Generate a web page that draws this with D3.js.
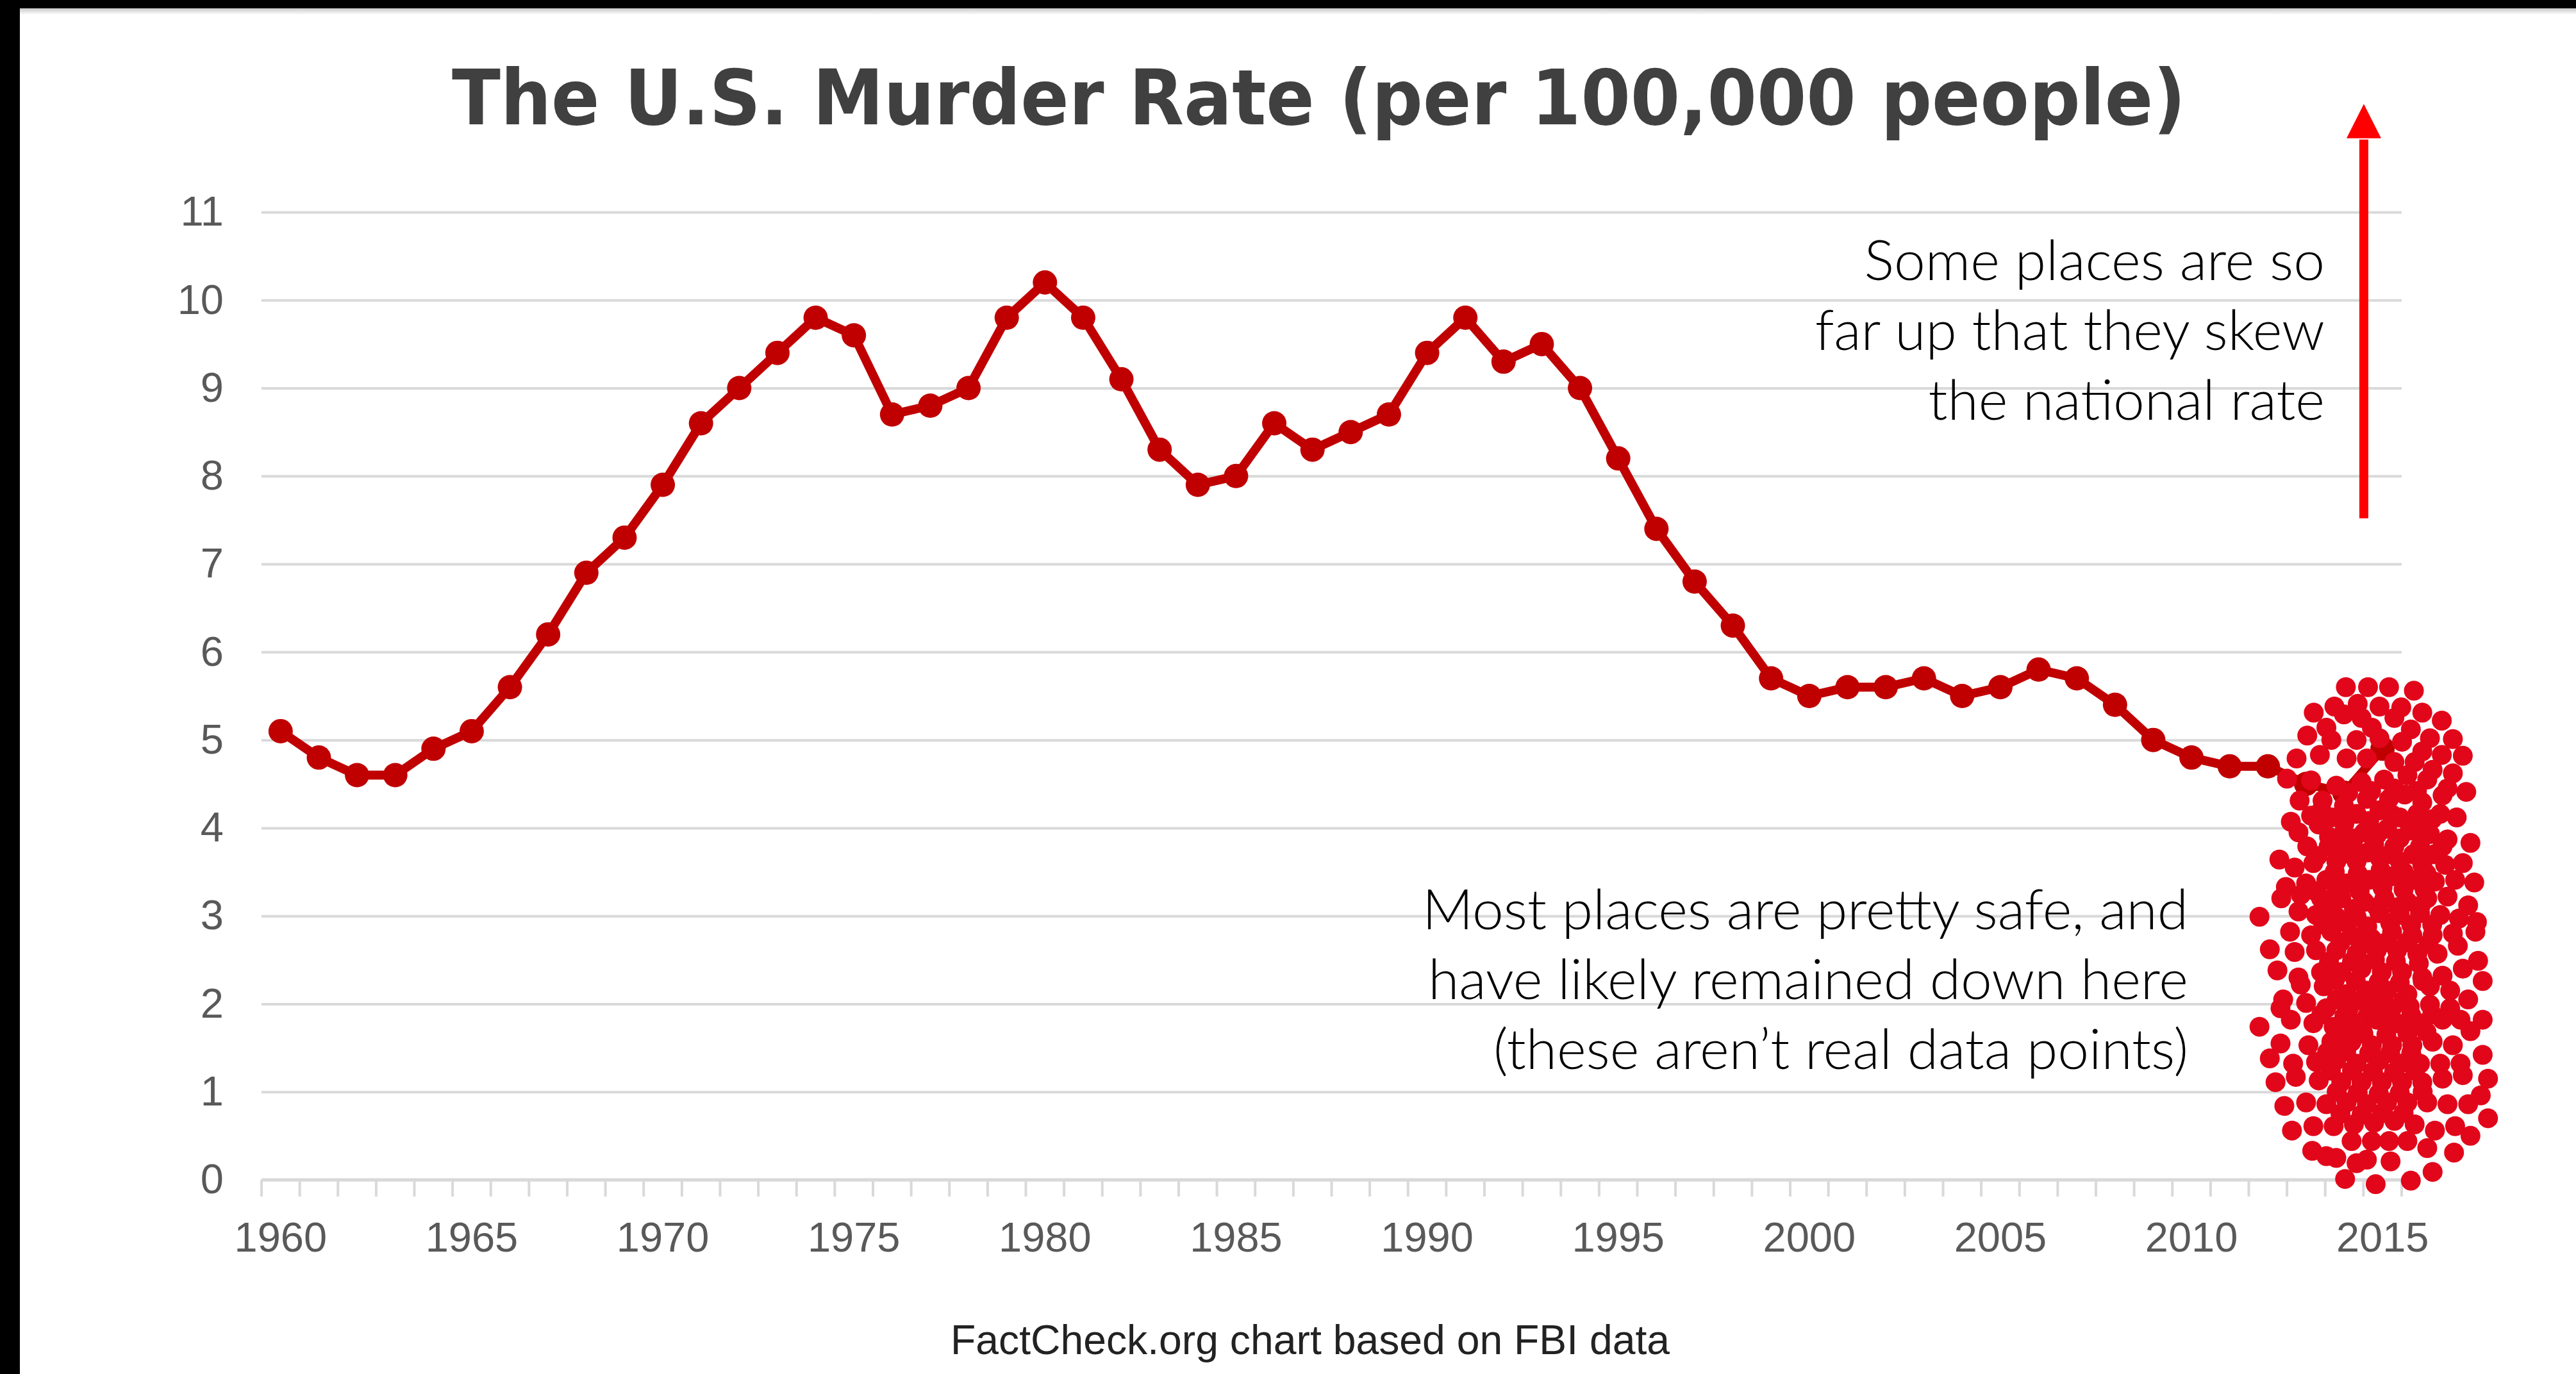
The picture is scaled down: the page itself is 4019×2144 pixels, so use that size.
<!DOCTYPE html>
<html>
<head>
<meta charset="utf-8">
<script src="https://cdn.jsdelivr.net/npm/d3@7"></script>
<style>
  html, body { margin: 0; padding: 0; background: #000; }
  svg { display: block; }
</style>
</head>
<body>
<svg id="chart" width="4019" height="2144"></svg>
<script>
// ---- data ----
const years = d3.range(1960, 2016);
const murderRate = [
  5.1, 4.8, 4.6, 4.6, 4.9, 5.1, 5.6, 6.2, 6.9, 7.3,
  7.9, 8.6, 9.0, 9.4, 9.8, 9.6, 8.7, 8.8, 9.0, 9.8,
  10.2, 9.8, 9.1, 8.3, 7.9, 8.0, 8.6, 8.3, 8.5, 8.7,
  9.4, 9.8, 9.3, 9.5, 9.0, 8.2, 7.4, 6.8, 6.3, 5.7,
  5.5, 5.6, 5.6, 5.7, 5.5, 5.6, 5.8, 5.7, 5.4, 5.0,
  4.8, 4.7, 4.7, 4.5, 4.4, 4.9
];
const yTicks = d3.range(0, 12);
const xLabelYears = [1960, 1965, 1970, 1975, 1980, 1985, 1990, 1995, 2000, 2005, 2010, 2015];

// illustrative cluster of "local" rates: [year position, rate]
const cloudPoints = [
  [2014.04,5.60],[2014.62,5.60],[2015.17,5.60],[2015.82,5.56],
  [2013.74,5.38],[2014.35,5.41],[2014.92,5.38],[2015.49,5.37],[2016.04,5.31],[2016.55,5.22],[2013.20,5.31],
  [2013.53,5.14],[2013.99,5.29],[2014.45,5.25],[2014.72,5.14],[2015.31,5.25],[2015.74,5.12],[2016.24,5.02],[2016.84,5.01],
  [2013.03,5.05],[2013.66,5.00],[2014.32,5.00],[2014.92,5.02],[2015.51,4.98],[2016.04,4.87],[2016.55,4.83],[2017.10,4.82],
  [2012.75,4.79],[2013.36,4.83],[2014.06,4.79],[2014.59,4.79],[2015.31,4.75],[2015.84,4.75],[2016.31,4.66],[2016.84,4.62],
  [2012.50,4.56],[2013.13,4.54],[2013.79,4.48],[2014.45,4.52],[2015.04,4.55],[2015.65,4.60],[2016.17,4.55],[2016.70,4.45],[2017.19,4.41],
  [2012.83,4.31],[2013.43,4.31],[2013.99,4.25],[2014.59,4.33],[2015.17,4.33],[2015.58,4.38],[2016.04,4.29],[2016.57,4.37],
  [2012.60,4.07],[2013.13,4.14],[2013.66,4.12],[2014.32,4.16],[2014.92,4.20],[2015.45,4.12],[2015.91,4.16],[2016.51,4.16],[2016.94,4.12],
  [2012.80,3.95],[2013.33,4.04],[2013.92,3.91],[2014.52,3.95],[2015.12,3.99],[2015.71,3.97],[2016.24,3.93],[2016.70,3.87],[2017.30,3.83],
  [2013.03,3.79],[2013.59,3.79],[2014.19,3.79],[2014.78,3.81],[2015.31,3.79],[2015.98,3.79],[2016.57,3.79],
  [2012.30,3.64],[2012.70,3.55],[2013.19,3.60],[2013.79,3.62],[2014.32,3.62],[2014.92,3.66],[2015.45,3.62],[2016.04,3.58],[2016.64,3.58],[2017.10,3.60],
  [2012.47,3.33],[2013.00,3.37],[2013.53,3.41],[2014.06,3.37],[2014.65,3.41],[2015.25,3.45],[2015.84,3.41],[2016.37,3.39],[2016.90,3.41],[2017.40,3.38],
  [2012.35,3.20],[2012.86,3.24],[2013.39,3.20],[2013.92,3.20],[2014.52,3.16],[2015.05,3.20],[2015.65,3.16],[2016.17,3.20],[2016.70,3.22],[2017.24,3.12],
  [2011.78,2.99],[2012.80,3.05],[2013.26,3.01],[2013.79,2.99],[2014.32,2.99],[2014.92,3.03],[2015.45,3.01],[2015.98,3.03],[2016.51,3.01],[2017.00,2.97],[2017.47,2.93],
  [2012.58,2.82],[2013.13,2.78],[2013.66,2.82],[2014.19,2.78],[2014.72,2.74],[2015.25,2.82],[2015.78,2.78],[2016.31,2.78],[2016.84,2.80],[2017.43,2.82],
  [2012.05,2.62],[2012.70,2.59],[2013.26,2.61],[2013.79,2.61],[2014.32,2.57],[2014.85,2.61],[2015.38,2.61],[2015.91,2.57],[2016.44,2.57],[2016.97,2.66],[2017.50,2.49],
  [2012.25,2.38],[2012.80,2.30],[2013.39,2.36],[2013.92,2.36],[2014.45,2.40],[2014.98,2.36],[2015.51,2.36],[2016.04,2.30],[2016.57,2.32],[2017.10,2.40],[2017.62,2.26],
  [2012.40,2.05],[2012.86,2.22],[2013.46,2.20],[2014.06,2.11],[2014.59,2.15],[2015.12,2.15],[2015.65,2.11],[2016.24,2.20],[2016.77,2.15],[2017.24,2.05],
  [2012.33,1.95],[2013.00,2.01],[2013.53,1.95],[2014.12,1.95],[2014.72,1.95],[2015.25,1.95],[2015.71,1.97],[2016.24,1.99],[2016.77,1.95],
  [2011.78,1.74],[2012.60,1.82],[2013.19,1.78],[2013.72,1.74],[2014.32,1.78],[2014.85,1.82],[2015.38,1.78],[2015.98,1.78],[2016.57,1.82],[2017.04,1.82],[2017.62,1.82],
  [2012.33,1.55],[2013.06,1.53],[2013.66,1.57],[2014.19,1.57],[2014.72,1.53],[2015.25,1.53],[2015.78,1.53],[2016.31,1.57],[2016.84,1.53],[2017.30,1.69],
  [2012.05,1.38],[2012.66,1.32],[2013.26,1.34],[2013.79,1.36],[2014.32,1.32],[2014.92,1.36],[2015.45,1.32],[2015.98,1.32],[2016.51,1.32],[2017.04,1.32],[2017.62,1.42],
  [2012.20,1.11],[2012.73,1.17],[2013.33,1.13],[2013.92,1.11],[2014.45,1.11],[2014.98,1.11],[2015.51,1.11],[2016.04,1.11],[2016.57,1.15],[2017.10,1.19],[2017.76,1.15],
  [2012.43,0.84],[2013.00,0.88],[2013.53,0.86],[2014.06,0.88],[2014.59,0.86],[2015.12,0.88],[2015.65,0.88],[2016.17,0.88],[2016.70,0.86],[2017.24,0.86],[2017.57,0.96],
  [2012.63,0.56],[2013.19,0.61],[2013.72,0.61],[2014.25,0.63],[2014.78,0.65],[2015.31,0.67],[2015.84,0.63],[2016.37,0.56],[2016.90,0.61],[2017.76,0.70],
  [2013.16,0.33],[2013.53,0.27],[2014.19,0.44],[2014.72,0.44],[2015.17,0.44],[2015.65,0.44],[2016.17,0.36],[2017.30,0.50],
  [2013.79,0.25],[2014.32,0.19],[2014.59,0.23],[2015.21,0.21],[2016.87,0.31],
  [2014.02,0.01],[2014.82,-0.05],[2015.74,-0.01],[2016.31,0.09]
];
// densely packed dots in the middle of the cluster
const cloudCore = [
  [2014.10,4.40],[2014.70,4.42],[2015.30,4.45],[2015.90,4.42],
  [2013.40,4.20],[2014.00,4.05],[2014.65,4.08],[2015.25,4.15],[2015.85,4.05],[2016.30,4.10],
  [2013.60,3.90],[2014.25,3.88],[2014.85,3.92],[2015.45,3.88],[2016.05,3.92],
  [2013.30,3.68],[2013.95,3.70],[2014.60,3.72],[2015.20,3.70],[2015.80,3.70],[2016.35,3.70],
  [2013.75,3.50],[2014.35,3.48],[2014.95,3.52],[2015.55,3.50],[2016.15,3.48],
  [2013.25,3.28],[2013.80,3.30],[2014.40,3.28],[2015.00,3.32],[2015.55,3.30],[2016.10,3.30],
  [2013.65,3.10],[2014.25,3.08],[2014.85,3.10],[2015.40,3.10],[2016.00,3.12],
  [2013.45,2.90],[2014.05,2.92],[2014.60,2.88],[2015.20,2.92],[2015.75,2.90],[2016.30,2.90],
  [2013.90,2.70],[2014.50,2.68],[2015.10,2.70],[2015.65,2.70],[2016.20,2.68],
  [2013.60,2.48],[2014.20,2.48],[2014.80,2.50],[2015.35,2.48],[2015.95,2.46],
  [2013.75,2.27],[2014.30,2.26],[2014.90,2.25],[2015.45,2.24],[2016.05,2.26],
  [2013.80,2.05],[2014.40,2.04],[2015.00,2.05],[2015.55,2.04],
  [2013.40,1.88],[2014.00,1.86],[2014.60,1.86],[2015.15,1.87],[2015.75,1.87],[2016.30,1.88],
  [2013.95,1.66],[2014.50,1.66],[2015.10,1.65],[2015.65,1.66],[2016.15,1.68],
  [2013.55,1.45],[2014.05,1.46],[2014.65,1.44],[2015.20,1.44],[2015.75,1.44],
  [2013.65,1.24],[2014.20,1.24],[2014.75,1.23],[2015.30,1.22],[2015.85,1.24],
  [2013.80,1.00],[2014.35,0.99],[2014.90,0.98],[2015.45,0.99],[2016.05,1.00],
  [2013.90,0.75],[2014.45,0.74],[2015.00,0.76],[2015.55,0.76]
];

const titleText = "The U.S. Murder Rate (per 100,000 people)";
const sourceText = "FactCheck.org chart based on FBI data";
const upperNote = ["Some places are so", "far up that they skew", "the national rate"];
const lowerNote = ["Most places are pretty safe, and", "have likely remained down here", "(these aren\u2019t real data points)"];
// arrow: year position, rate at tail, rate at head base, rate at tip
const arrowSpec = { year: 2014.51, from: 7.52, headBase: 11.84, tip: 12.23 };

// ---- layout ----
const W = 4019, H = 2144;
const plot = { left: 408, right: 3747, top: 331, bottom: 1841 };
const lineColor = "#c00000";
const cloudColor = "#e2061a";
const gridColor = "#d9d9d9";
const labelColor = "#595959";

const svg = d3.select("#chart");

// frame: dark edge on the left and top, white sheet
svg.append("rect").attr("width", W).attr("height", H).attr("fill", "#000");
svg.append("rect").attr("x", 31).attr("y", 13).attr("width", W - 31).attr("height", H - 13).attr("fill", "#fff");
const defs = svg.append("defs");
const shade = defs.append("linearGradient").attr("id", "shade").attr("x1", 0).attr("y1", 0).attr("x2", 0).attr("y2", 1);
shade.append("stop").attr("offset", 0).attr("stop-color", "#c8c8c8");
shade.append("stop").attr("offset", 1).attr("stop-color", "#fff");
svg.append("rect").attr("x", 31).attr("y", 13).attr("width", W - 31).attr("height", 10).attr("fill", "url(#shade)");

// scales
const x = d3.scaleBand().domain(years).range([plot.left, plot.right]).padding(0);
const xc = yr => x(yr) + x.bandwidth() / 2;
const xLin = d3.scaleLinear().domain([1960, 2015]).range([xc(1960), xc(2015)]);
const y = d3.scaleLinear().domain([0, 11]).range([plot.bottom, plot.top]);

// title
svg.append("text")
  .attr("x", (705 + 3410) / 2).attr("y", 194)
  .attr("text-anchor", "middle")
  .attr("font-family", "'DejaVu Sans', Verdana, sans-serif")
  .attr("font-weight", "bold")
  .attr("font-size", 120)
  .attr("fill", "#404040")
  .attr("textLength", 2705)
  .attr("lengthAdjust", "spacingAndGlyphs")
  .text(titleText);

// y axis with gridlines
const yAxis = d3.axisLeft(y)
  .tickValues(yTicks)
  .tickSizeInner(-(plot.right - plot.left))
  .tickSizeOuter(0)
  .tickPadding(59)
  .tickFormat(d3.format("d"));
const gy = svg.append("g").attr("transform", `translate(${plot.left},0)`).call(yAxis);
gy.select(".domain").remove();
gy.selectAll(".tick line").attr("stroke", gridColor).attr("stroke-width", 4);
gy.selectAll(".tick text")
  .attr("font-family", "'Liberation Sans', Arial, sans-serif")
  .attr("font-size", 65)
  .attr("fill", labelColor);

// x axis: ticks on category boundaries, labels every five years
const boundaries = years.map(d => x(d)).concat([plot.right]);
svg.append("g").selectAll("line").data(boundaries).join("line")
  .attr("x1", d => d).attr("x2", d => d)
  .attr("y1", plot.bottom).attr("y2", plot.bottom + 26)
  .attr("stroke", gridColor).attr("stroke-width", 4);
svg.append("line")
  .attr("x1", plot.left).attr("x2", plot.right)
  .attr("y1", plot.bottom).attr("y2", plot.bottom)
  .attr("stroke", gridColor).attr("stroke-width", 5);

const xAxis = d3.axisBottom(x).tickValues(xLabelYears).tickSize(0).tickPadding(66);
const gx = svg.append("g").attr("transform", `translate(0,${plot.bottom})`).call(xAxis);
gx.select(".domain").remove();
gx.selectAll(".tick text")
  .attr("font-family", "'Liberation Sans', Arial, sans-serif")
  .attr("font-size", 65)
  .attr("fill", labelColor);

// murder-rate series
const series = years.map((yr, i) => ({ year: yr, value: murderRate[i] }));
svg.append("path")
  .datum(series)
  .attr("fill", "none")
  .attr("stroke", lineColor)
  .attr("stroke-width", 14)
  .attr("stroke-linejoin", "round")
  .attr("d", d3.line().x(d => xc(d.year)).y(d => y(d.value)));
svg.append("g").selectAll("circle").data(series).join("circle")
  .attr("cx", d => xc(d.year))
  .attr("cy", d => y(d.value))
  .attr("r", 19)
  .attr("fill", lineColor);

// illustrative cluster
svg.append("g").selectAll("circle").data(cloudCore.concat(cloudPoints)).join("circle")
  .attr("cx", d => xLin(d[0]))
  .attr("cy", d => y(d[1]))
  .attr("r", 15.5)
  .attr("fill", cloudColor);

// arrow pointing up
const ax = xLin(arrowSpec.year);
svg.append("line")
  .attr("x1", ax).attr("x2", ax)
  .attr("y1", y(arrowSpec.from)).attr("y2", y(arrowSpec.headBase) + 2)
  .attr("stroke", "#ff0000").attr("stroke-width", 14);
svg.append("path")
  .attr("d", `M${ax},${y(arrowSpec.tip)} L${ax + 27},${y(arrowSpec.headBase)} L${ax - 27},${y(arrowSpec.headBase)} Z`)
  .attr("fill", "#ff0000");

// notes
const noteFont = "Lato, 'Open Sans', sans-serif";
const probe = svg.append("text")
  .attr("font-family", noteFont).attr("font-weight", 300).attr("font-size", 100)
  .text(lowerNote[1]);
const noteSize = 100 * 1186 / probe.node().getComputedTextLength();
probe.remove();

function note(lines, rightX, firstBaseline) {
  svg.append("g").selectAll("text").data(lines).join("text")
    .attr("x", rightX)
    .attr("y", (d, i) => firstBaseline + i * 109)
    .attr("text-anchor", "end")
    .attr("font-family", noteFont)
    .attr("font-weight", 300)
    .attr("font-size", noteSize)
    .attr("fill", "#000")
    .text(d => d);
}
note(upperNote, 3627, 437);
note(lowerNote, 3414, 1450);

// source line
svg.append("text")
  .attr("x", (1483 + 2605) / 2).attr("y", 2113)
  .attr("text-anchor", "middle")
  .attr("font-family", "'Liberation Sans', Arial, sans-serif")
  .attr("font-size", 64)
  .attr("fill", "#222")
  .attr("textLength", 1122)
  .attr("lengthAdjust", "spacingAndGlyphs")
  .text(sourceText);
</script>
</body>
</html>
